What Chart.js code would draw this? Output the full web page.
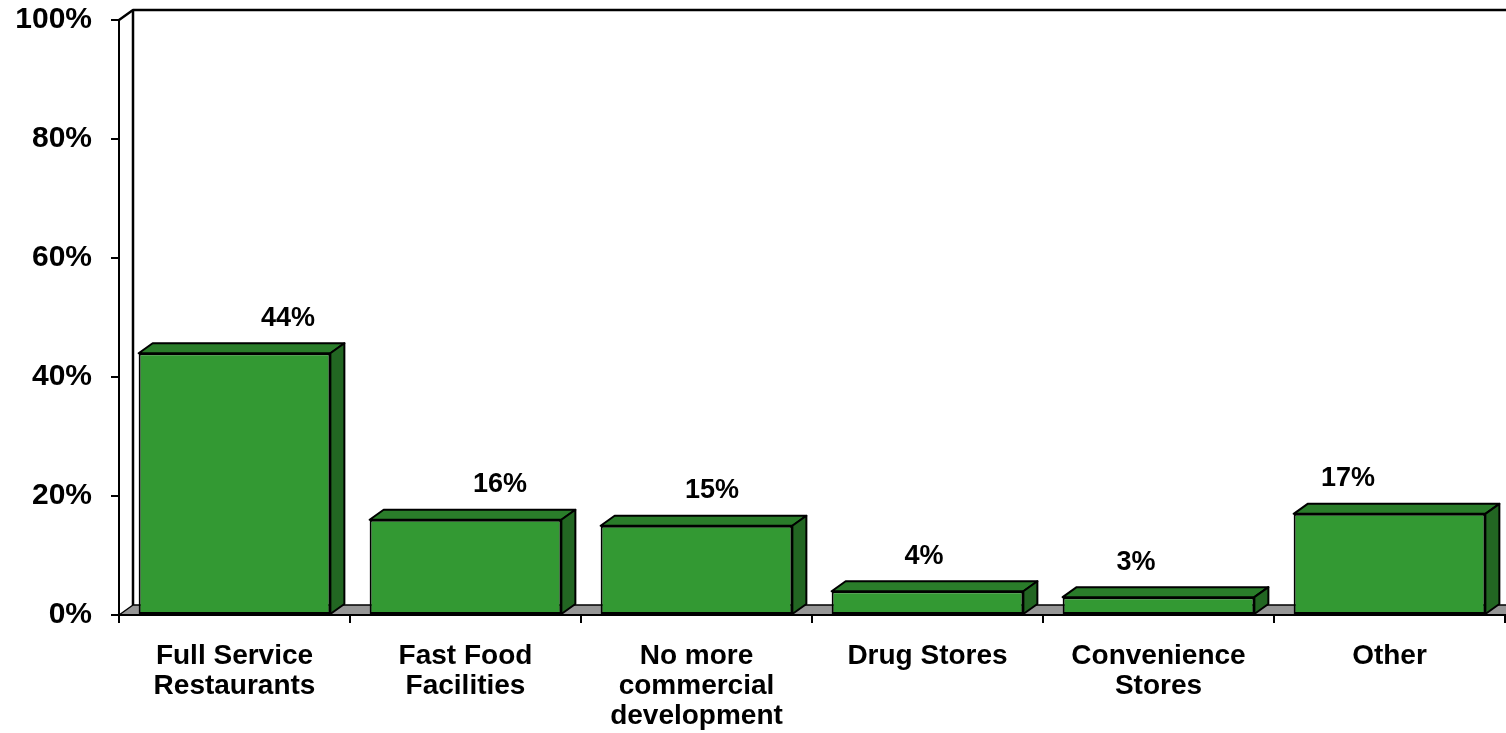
<!DOCTYPE html>
<html><head><meta charset="utf-8">
<script src="https://cdn.jsdelivr.net/npm/chart.js@4/dist/chart.umd.min.js"></script>
<style>html,body{margin:0;padding:0;background:#fff;overflow:hidden}#wrap{width:1506px;height:733px}</style>
</head><body><div id="wrap"><canvas id="c" width="1506" height="733"></canvas></div>
<script>
const categories = [["Full Service","Restaurants"],["Fast Food","Facilities"],["No more","commercial","development"],["Drug Stores"],["Convenience","Stores"],["Other"]];
const values = [44,16,15,4,3,17];
const yTickValues = [0,20,40,60,80,100];
const yTickLabels = ["0%","20%","40%","60%","80%","100%"];

const DX = 14, DY = 10;
const FONT = "'Liberation Sans', Arial, sans-serif";

function poly(ctx, pts, fill){
  ctx.beginPath();
  ctx.moveTo(pts[0][0], pts[0][1]);
  for (let i=1;i<pts.length;i++) ctx.lineTo(pts[i][0], pts[i][1]);
  ctx.closePath();
  if (fill){ ctx.fillStyle = fill; ctx.fill(); }
  ctx.stroke();
}

const frame3d = {
  id: 'frame3d',
  beforeDraw(chart){
    const {ctx, chartArea:a} = chart;
    ctx.save();
    ctx.fillStyle = '#fff';
    ctx.fillRect(0,0,chart.width,chart.height);
    ctx.strokeStyle = '#000'; ctx.lineWidth = 1.5; ctx.lineJoin='round';
    // floor
    poly(ctx, [[a.left,a.bottom],[a.left+DX,a.bottom-DY],[chart.width+5,a.bottom-DY],[chart.width+5,a.bottom]], '#969696');
    ctx.lineWidth = 2.5;
    // back wall top and left side wall
    ctx.beginPath();
    ctx.moveTo(a.left, a.top);
    ctx.lineTo(a.left+DX, a.top-DY);
    ctx.lineTo(chart.width+5, a.top-DY);
    ctx.stroke();
    ctx.beginPath();
    ctx.moveTo(a.left+DX, a.top-DY);
    ctx.lineTo(a.left+DX, a.bottom-DY);
    ctx.stroke();
    ctx.restore();
  },
  beforeDatasetsDraw(chart){
    const {ctx} = chart;
    const meta = chart.getDatasetMeta(0);
    ctx.save();
    ctx.strokeStyle = '#000'; ctx.lineWidth = 2; ctx.lineJoin = 'round';
    meta.data.forEach(b => {
      const p = b.getProps(['x','y','base','width'], true);
      const l = p.x - p.width/2, r = p.x + p.width/2;
      poly(ctx, [[l,p.y],[l+DX,p.y-DY],[r+DX,p.y-DY],[r,p.y]], '#2a7d2a');
      poly(ctx, [[r,p.y],[r+DX,p.y-DY],[r+DX,p.base-DY],[r,p.base]], '#226622');
    });
    ctx.restore();
  },
  afterDatasetsDraw(chart){
    const {ctx} = chart;
    const meta = chart.getDatasetMeta(0);
    const n = meta.data.length;
    ctx.save();
    ctx.font = "bold 27px " + FONT;
    ctx.fillStyle = '#000';
    ctx.textAlign = 'center';
    ctx.textBaseline = 'middle';
    meta.data.forEach((b, i) => {
      const p = b.getProps(['x','y'], true);
      const off = 6 + ((n-1)/2 - i) * 19;
      ctx.fillText(values[i] + '%', p.x + off, p.y - 35);
    });
    ctx.restore();
  }
};

new Chart(document.getElementById('c'), {
  type: 'bar',
  data: {
    labels: categories,
    datasets: [{
      data: values,
      backgroundColor: '#339933',
      borderColor: '#000',
      borderWidth: 2,
      borderSkipped: false,
      barPercentage: 0.83,
      categoryPercentage: 1
    }]
  },
  options: {
    responsive: false,
    animation: false,
    devicePixelRatio: 1,
    layout: { padding: { top: 20, right: 1, left: 0, bottom: 0 } },
    plugins: { legend: { display: false }, tooltip: { enabled: false } },
    scales: {
      x: {
        afterFit(s){ s.height = 118; s.paddingLeft = 0; s.paddingRight = 0; },
        grid: { drawOnChartArea: false, drawTicks: true, tickLength: 8, color: '#000', lineWidth: 2, offset: true },
        border: { display: true, color: '#000', width: 2 },
        ticks: { color: '#000', font: { family: FONT, size: 28, weight: 'bold', lineHeight: '30px' }, padding: 18, maxRotation: 0, autoSkip: false }
      },
      y: {
        min: 0, max: 100,
        afterFit(s){ s.width = 119; s.paddingTop = 0; s.paddingBottom = 0; },
        afterBuildTicks(s){ s.ticks = yTickValues.map(v => ({value: v})); },
        grid: { drawOnChartArea: false, drawTicks: true, tickLength: 8, color: '#000', lineWidth: 2 },
        border: { display: true, color: '#000', width: 2 },
        ticks: { color: '#000', font: { family: FONT, size: 30, weight: 'bold' }, padding: 19,
          callback(v){ const i = yTickValues.indexOf(v); return i >= 0 ? yTickLabels[i] : ''; } }
      }
    }
  },
  plugins: [frame3d]
});
</script></body></html>
